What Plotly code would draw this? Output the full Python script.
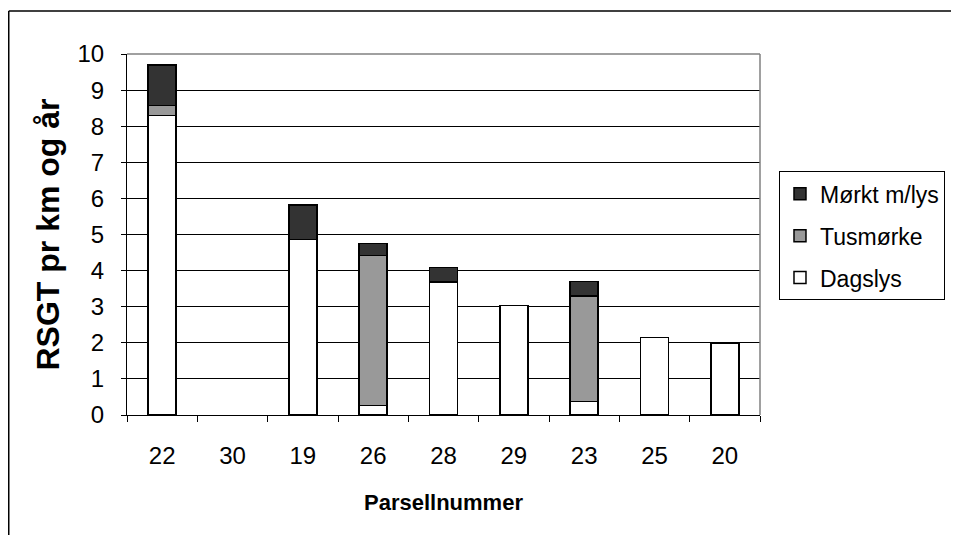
import plotly.graph_objects as go

categories = ["22", "30", "19", "26", "28", "29", "23", "25", "20"]
dagslys = [8.30, 0, 4.86, 0.27, 3.69, 3.04, 0.37, 2.15, 1.99]
tusmorke = [0.28, 0, 0, 4.15, 0, 0, 2.93, 0, 0]
morkt = [1.12, 0, 0.96, 0.33, 0.40, 0, 0.40, 0, 0]
y_ticks = list(range(0, 11))

font_family = "Liberation Sans, Arial, sans-serif"

fig = go.Figure()
series = [
    ("Dagslys", dagslys, "#FFFFFF", 3),
    ("Tusmørke", tusmorke, "#999999", 2),
    ("Mørkt m/lys", morkt, "#333333", 1),
]
for name, vals, col, rank in series:
    fig.add_trace(go.Bar(
        x=categories, y=[v if v else None for v in vals], name=name,
        legendgroup=name, legendrank=rank,
        marker=dict(color=col, line=dict(color="#000000", width=1.5)),
    ))

fig.update_layout(
    barmode="stack",
    bargap=0.6,
    width=951, height=527,
    margin=dict(l=119, r=199, t=46, b=120),
    paper_bgcolor="white", plot_bgcolor="white",
    font=dict(family=font_family, size=24, color="black"),
    showlegend=True,
    legend=dict(
        x=1.03, xanchor="left", y=0.675, yanchor="top",
        bordercolor="black", borderwidth=1, bgcolor="white",
        traceorder="grouped", tracegroupgap=9,
        font=dict(size=23, family=font_family),
        itemwidth=30,
    ),
    xaxis=dict(
        type="category", showgrid=False, ticks="outside", tickson="boundaries",
        ticklen=6, tickcolor="#000000", showline=True, linecolor="#000000", linewidth=1,
        ticklabelstandoff=19,
        tickfont=dict(size=24),
        title=dict(text="<b>Parsellnummer</b>", font=dict(size=22), standoff=26),
    ),
    yaxis=dict(
        range=[0, 10], tickvals=y_ticks, showgrid=True, gridcolor="#000000", gridwidth=1,
        ticks="outside", ticklen=5, tickcolor="#000000",
        showline=True, linecolor="#000000", linewidth=1, zeroline=False,
        ticklabelstandoff=12,
        tickfont=dict(size=24),
        title=dict(text="<b>RSGT pr km og år</b>", font=dict(size=32), standoff=8),
    ),
    shapes=[
        dict(type="line", xref="paper", yref="paper", x0=0, x1=1, y0=1, y1=1,
             line=dict(color="#808080", width=1.5)),
        dict(type="line", xref="paper", yref="paper", x0=1, x1=1, y0=0, y1=1,
             line=dict(color="#808080", width=1.5)),
        dict(type="line", xref="paper", yref="paper", x0=-0.1868, x1=2.0, y0=1.119, y1=1.119,
             line=dict(color="#000000", width=1.5), layer="below"),
        dict(type="line", xref="paper", yref="paper", x0=-0.1868, x1=-0.1868, y0=-1.0, y1=1.119,
             line=dict(color="#000000", width=1.5), layer="below"),
    ],
)

fig.write_html("out.html")
